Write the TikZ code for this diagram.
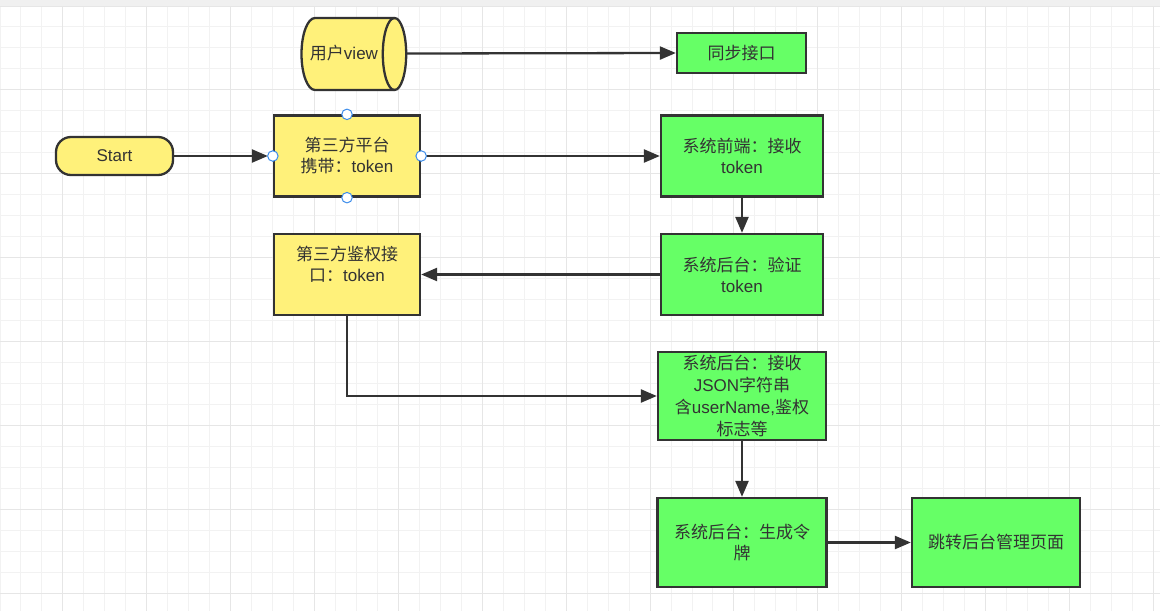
\documentclass[tikz,border=0pt]{standalone}
\usepackage{fontspec}
\setmainfont{Liberation Sans}
\newfontfamily\cjk{Noto Sans CJK SC}
\usetikzlibrary{arrows.meta}
\definecolor{edge}{HTML}{333333}
\definecolor{txt}{HTML}{333333}
\definecolor{yel}{HTML}{FFF17A}
\definecolor{grn}{HTML}{66FF66}
\definecolor{gminor}{HTML}{F2F2F2}
\definecolor{gmajor}{HTML}{E6E6E6}
\definecolor{band}{HTML}{F0F0F0}
\definecolor{hblue}{HTML}{3B8CEB}
\tikzset{
  box/.style={draw=edge, line width=2.3pt, rectangle, inner sep=0pt, align=center,
    font=\fontsize{17}{21}\selectfont, text=txt},
  ybox/.style={box, fill=yel},
  gbox/.style={box, fill=grn},
  arr/.style={draw=edge, line width=2.3pt, -{Triangle[length=16pt,width=13pt]}},
  handle/.style={circle, draw=hblue, fill=white, line width=1pt, minimum size=10.5pt, inner sep=0pt},
  gridminor/.style={draw=gminor, line width=1pt},
  gridmajor/.style={draw=gmajor, line width=1pt}
}
\begin{document}
\begin{tikzpicture}[x=1pt,y=-1pt]
\useasboundingbox (0,0) rectangle (1160,611);
\fill[white] (0,0) rectangle (1160,611);
% grid
\foreach \i in {0,...,55} \draw[gridminor] ({\i*20.97},6) -- ({\i*20.97},611);
\foreach \k in {0,...,28} \draw[gridminor] (0,{6+\k*20.97}) -- (1160,{6+\k*20.97});
\foreach \i in {3,7,...,55} \draw[gridmajor] ({\i*20.97},6) -- ({\i*20.97},611);
\foreach \k in {0,4,...,28} \draw[gridmajor] (0,{6+\k*20.97}) -- (1160,{6+\k*20.97});
\fill[band] (0,0) rectangle (1160,6);

% cylinder
\filldraw[fill=yel, draw=edge, line width=2.3pt]
  (394.5,18) -- (315,18) arc[start angle=90, end angle=270, x radius=13.5pt, y radius=36pt]
  -- (394.5,90) arc[start angle=-90, end angle=90, x radius=11.7pt, y radius=36pt] -- cycle;
\draw[edge, line width=2.3pt] (394.5,90) arc[start angle=270, end angle=90, x radius=11.7pt, y radius=36pt];
\node[font=\fontsize{17}{21}\selectfont, text=txt, inner sep=0pt] (cyl) at (344,53.5) {{\cjk 用户}view};
\coordinate (cylR) at (406.2,53.5);

% nodes
\node[gbox, minimum width=129pt, minimum height=40pt] (sync) at (741.5,53) {{\cjk 同步接口}};
\node[ybox, rounded corners=15pt, minimum width=117pt, minimum height=38pt] (start) at (114.5,156) {Start};
\node[ybox, minimum width=146pt, minimum height=81pt] (p3) at (347,156) {{\cjk 第三方平台}\\{\cjk 携带：}token};
\node[gbox, minimum width=162pt, minimum height=81pt] (front) at (742,156) {{\cjk 系统前端：接收}\\token};
\node[gbox, minimum width=162pt, minimum height=81pt] (verify) at (742,274.5) {{\cjk 系统后台：验证}\\token};
\node[ybox, minimum width=146pt, minimum height=81pt] (auth) at (347,274.5) {{\cjk 第三方鉴权接}\\{\cjk 口：}token\\\mbox{}};
\node[gbox, minimum width=168pt, minimum height=88pt, font=\fontsize{17}{21.7}\selectfont] (json) at (742,396)
  {{\cjk 系统后台：接收}\\JSON{\cjk 字符串}\\{\cjk 含}userName,{\cjk 鉴权}\\{\cjk 标志等}};
\node[gbox, minimum width=169pt, minimum height=89pt] (gen) at (742,542.5) {{\cjk 系统后台：生成令}\\{\cjk 牌}};
\node[gbox, minimum width=168pt, minimum height=89pt] (jump) at (996,542.5) {{\cjk 跳转后台管理页面}};

% connectors
\draw[arr] (cylR) -- (sync.west);
\draw[arr, shorten >=5pt] (start.east) -- (p3.west);
\draw[arr] (p3.east) -- (front.west);
\draw[arr] (front.south) -- (verify.north);
\draw[arr] (verify.west) -- (auth.east);
\draw[arr] (auth.south) |- (json.west);
\draw[arr] (json.south) -- (gen.north);
\draw[arr] (gen.east) -- (jump.west);

% selection handles
\node[handle] (hn) at (p3.north) {};
\node[handle] (hs) at (p3.south) {};
\node[handle] (hw) at (p3.west) {};
\node[handle] (he) at (p3.east) {};
\end{tikzpicture}
\end{document}
